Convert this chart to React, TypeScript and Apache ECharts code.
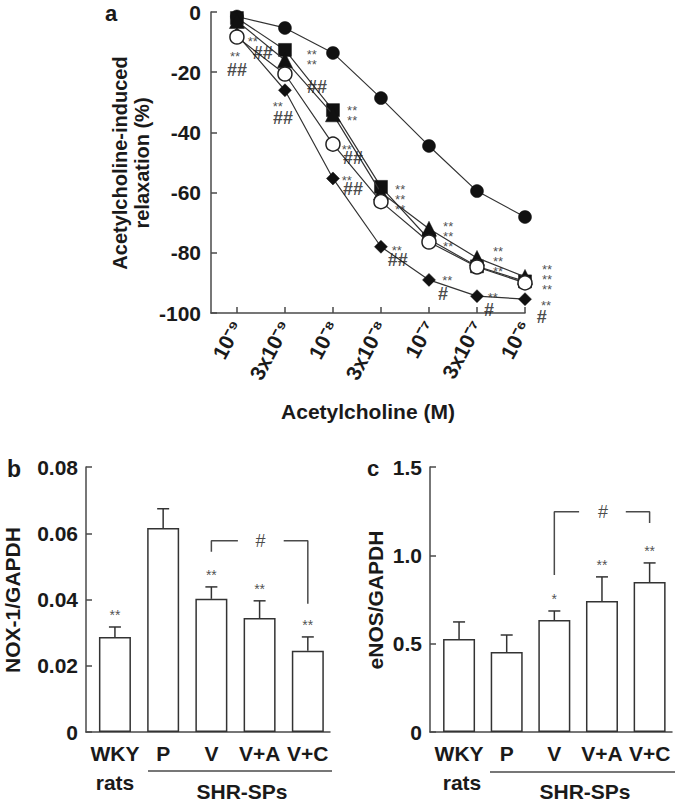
import React, { useEffect, useRef } from "react";
import * as echarts from "echarts";

const FONT = "'Liberation Sans', Arial, Helvetica, sans-serif";
const INK = "#1a1a1a";
const LINE = "#4a4a4a";

// ---------- Panel a: concentration–response ----------
const concLabels = ["10⁻⁹", "3x10⁻⁹", "10⁻⁸", "3x10⁻⁸", "10⁻⁷", "3x10⁻⁷", "10⁻⁶"];
const concIdx = [0, 1, 2, 3, 4, 5, 6];

const filledCircle = [-1.5, -5.3, -13.6, -28.6, -44.5, -59.5, -68.1];
const filledSquare = [-2, -12.6, -32.6, -58.1, -75.5, -84.5, -89.5];
const filledTriangle = [-3, -16, -34, -60, -72, -81.7, -88];
const openCircle = [-8.3, -20.6, -43.9, -63, -76.4, -84.7, -90];
const filledDiamond = [-7.5, -26, -55.3, -78, -89, -94.4, -95.4];

// significance marks: [x, y, number of stacked "**" rows]
const starsA = [
  [-0.04, -13.3, 1], [0.33, -8.6, 1], [0.85, -30.2, 1], [1.56, -14.6, 2],
  [2.4, -33.2, 2], [2.29, -44.2, 1], [2.29, -54.5, 1],
  [3.4, -60.8, 3], [3.33, -78, 1], [4.4, -73.4, 3], [4.38, -88, 1],
  [5.44, -81.7, 3], [5.33, -93.4, 1], [6.46, -87.4, 3], [6.44, -96.3, 1],
];
const hashesA = [
  [0, -19.3, "##"], [0.54, -13.6, "##"], [0.96, -35.2, "##"], [1.67, -24.9, "##"],
  [2.42, -48.5, "##"], [2.42, -58.8, "##"], [3.35, -82.4, "##"],
  [4.29, -93.7, "#"], [5.25, -99, "#"], [6.35, -101.3, "#"],
];

// ---------- Panels b, c: bars ----------
const groups = ["WKY", "P", "V", "V+A", "V+C"];
const groupIdx = [0, 1, 2, 3, 4];

const noxMean = [0.0287, 0.0616, 0.0402, 0.0344, 0.0245];
const noxSem = [0.003, 0.0058, 0.0036, 0.0052, 0.0042];
const noxSig = ["**", "", "**", "**", "**"];
const noxBracketLeft = [[2, 0.0544], [2, 0.0577], [2.55, 0.0577]];
const noxBracketRight = [[3.5, 0.0577], [4, 0.0577], [4, 0.0387]];
const noxBracketMark = [[3.02, 0.0577, "#"]];

const enosMean = [0.527, 0.453, 0.634, 0.742, 0.849];
const enosSem = [0.096, 0.096, 0.051, 0.136, 0.108];
const enosSig = ["", "", "*", "**", "**"];
const enosBracketLeft = [[2, 0.889], [2, 1.246], [2.52, 1.246]];
const enosBracketRight = [[3.5, 1.246], [4, 1.246], [4, 1.183]];
const enosBracketMark = [[3.02, 1.246, "#"]];

const lineSeries = (data: number[], symbol: string, size: number, filled: boolean, z: number) => ({
  type: "line",
  xAxisIndex: 0,
  yAxisIndex: 0,
  data: data.map((v, i) => [concIdx[i], v]),
  symbol,
  symbolSize: size,
  showSymbol: true,
  showAllSymbol: true,
  silent: true,
  z,
  lineStyle: { color: "#333", width: 1.2 },
  itemStyle: filled
    ? { color: "#111", borderColor: "#111", borderWidth: 0.5 }
    : { color: "#fff", borderColor: "#222", borderWidth: 1.5 },
});

const errorRender = (params: any, api: any) => {
  const x = api.value(0);
  const m = api.value(1);
  const s = api.value(2);
  const p0 = api.coord([x, m]);
  const p1 = api.coord([x, m + s]);
  const st = { stroke: "#333", lineWidth: 1.5 };
  return {
    type: "group",
    children: [
      { type: "line", shape: { x1: p0[0], y1: p0[1], x2: p1[0], y2: p1[1] }, style: st },
      { type: "line", shape: { x1: p1[0] - 6, y1: p1[1], x2: p1[0] + 6, y2: p1[1] }, style: st },
    ],
  };
};

const barPanel = (idx: number, mean: number[], sem: number[], sig: string[], bl: number[][], br: number[][], bm: any[]) => [
  {
    type: "bar",
    xAxisIndex: idx,
    yAxisIndex: idx,
    data: mean.map((m, i) => [groupIdx[i], m]),
    barWidth: 32,
    silent: true,
    itemStyle: { color: "#fff", borderColor: "#333", borderWidth: 1.5 },
  },
  {
    type: "custom",
    xAxisIndex: idx,
    yAxisIndex: idx,
    renderItem: errorRender,
    encode: { x: 0, y: 1 },
    data: mean.map((m, i) => [groupIdx[i], m, sem[i]]),
    silent: true,
    z: 3,
  },
  {
    type: "scatter",
    xAxisIndex: idx,
    yAxisIndex: idx,
    symbolSize: 0,
    silent: true,
    data: mean.map((m, i) => [groupIdx[i], m + sem[i], sig[i]]).filter((d) => d[2] !== ""),
    label: {
      show: true,
      position: "top",
      distance: 6,
      formatter: (p: any) => p.data[2],
      fontSize: 14,
      lineHeight: 12,
      color: "#222",
      fontFamily: FONT,
    },
  },
  {
    type: "line",
    xAxisIndex: idx,
    yAxisIndex: idx,
    data: bl,
    symbol: "none",
    silent: true,
    lineStyle: { color: LINE, width: 1.5 },
  },
  {
    type: "line",
    xAxisIndex: idx,
    yAxisIndex: idx,
    data: br,
    symbol: "none",
    silent: true,
    lineStyle: { color: LINE, width: 1.5 },
  },
  {
    type: "scatter",
    xAxisIndex: idx,
    yAxisIndex: idx,
    symbolSize: 0,
    silent: true,
    data: bm,
    label: {
      show: true,
      position: "inside",
      formatter: (p: any) => p.data[2],
      fontSize: 18,
      color: INK,
      fontFamily: FONT,
    },
  },
];

const axisLine = { show: true, onZero: false, lineStyle: { color: LINE, width: 1.5 } };
const yTick = { show: true, inside: true, length: 6, lineStyle: { color: LINE, width: 1.5 } };
const yLabel = (margin: number, fmt?: (v: number) => string) => ({
  fontSize: 21,
  fontWeight: "bold",
  color: INK,
  fontFamily: FONT,
  margin,
  formatter: fmt,
});
const barXAxis = (gridIndex: number, min: number, max: number) => ({
  gridIndex,
  type: "value",
  min,
  max,
  axisLine,
  axisTick: { show: false },
  splitLine: { show: false },
  axisLabel: {
    customValues: groupIdx,
    formatter: (v: number) => groups[Math.round(v)],
    fontSize: 21,
    fontWeight: "bold",
    color: INK,
    fontFamily: FONT,
    margin: 11,
  },
});

const txt = (text: string, x: number, y: number, size: number, rot = 0, bold = true) => ({
  type: "text",
  x,
  y,
  rotation: rot,
  silent: true,
  style: {
    text,
    fill: INK,
    font: `${bold ? "bold " : ""}${size}px ${FONT}`,
    fontSize: size,
    fontWeight: bold ? "bold" : "normal",
    fontFamily: FONT,
    align: "center",
    verticalAlign: "middle",
    textAlign: "center",
    textVerticalAlign: "middle",
  },
});
const hline = (x1: number, x2: number, y: number) => ({
  type: "line",
  silent: true,
  shape: { x1, y1: y, x2, y2: y },
  style: { stroke: LINE, lineWidth: 1.5 },
});

const option: any = {
  animation: false,
  backgroundColor: "#fff",
  textStyle: { fontFamily: FONT },
  grid: [
    { left: 211, top: 12, width: 314, height: 301 },
    { left: 86, top: 467, width: 244, height: 265 },
    { left: 430, top: 467, width: 242, height: 265 },
  ],
  xAxis: [
    {
      gridIndex: 0,
      type: "value",
      min: -0.54,
      max: 6,
      axisLine,
      axisTick: { show: true, inside: true, length: 6, customValues: concIdx, lineStyle: { color: LINE, width: 1.5 } },
      splitLine: { show: false },
      axisLabel: {
        customValues: concIdx,
        rotate: 62,
        margin: 9,
        fontSize: 21,
        fontWeight: "bold",
        color: INK,
        fontFamily: FONT,
        formatter: (v: number) => concLabels[Math.round(v)],
      },
    },
    barXAxis(1, -0.6, 4.46),
    barXAxis(2, -0.61, 4.47),
  ],
  yAxis: [
    {
      gridIndex: 0,
      type: "value",
      min: -100,
      max: 0,
      interval: 20,
      axisLine,
      axisTick: yTick,
      splitLine: { show: false },
      axisLabel: yLabel(10),
    },
    {
      gridIndex: 1,
      type: "value",
      min: 0,
      max: 0.08,
      interval: 0.02,
      axisLine,
      axisTick: yTick,
      splitLine: { show: false },
      axisLabel: yLabel(8, (v: number) => (v === 0 ? "0" : v.toFixed(2))),
    },
    {
      gridIndex: 2,
      type: "value",
      min: 0,
      max: 1.5,
      interval: 0.5,
      axisLine,
      axisTick: yTick,
      splitLine: { show: false },
      axisLabel: yLabel(8, (v: number) => (v === 0 ? "0" : v.toFixed(1))),
    },
  ],
  series: [
    lineSeries(filledDiamond, "diamond", 13, true, 2),
    lineSeries(filledCircle, "circle", 13, true, 3),
    lineSeries(filledSquare, "rect", 13, true, 4),
    lineSeries(filledTriangle, "triangle", 15, true, 5),
    lineSeries(openCircle, "circle", 14, false, 6),
    {
      type: "scatter",
      xAxisIndex: 0,
      yAxisIndex: 0,
      symbolSize: 0,
      silent: true,
      clip: false,
      z: 7,
      data: starsA,
      label: {
        show: true,
        position: "inside",
        offset: [0, 4],
        formatter: (p: any) => Array(p.data[2]).fill("**").join("\n"),
        fontSize: 13,
        lineHeight: 10,
        color: "#222",
        fontFamily: FONT,
      },
    },
    {
      type: "scatter",
      xAxisIndex: 0,
      yAxisIndex: 0,
      symbolSize: 0,
      silent: true,
      clip: false,
      z: 7,
      data: hashesA,
      label: {
        show: true,
        position: "inside",
        formatter: (p: any) => p.data[2],
        fontSize: 18,
        lineHeight: 13,
        fontWeight: "bold",
        color: INK,
        fontFamily: FONT,
      },
    },
    ...barPanel(1, noxMean, noxSem, noxSig, noxBracketLeft, noxBracketRight, noxBracketMark),
    ...barPanel(2, enosMean, enosSem, enosSig, enosBracketLeft, enosBracketRight, enosBracketMark),
  ],
  graphic: [
    txt("a", 111, 13, 22),
    txt("Acetylcholine-induced", 120, 163, 20, Math.PI / 2),
    txt("relaxation (%)", 142, 163, 20, Math.PI / 2),
    txt("Acetylcholine (M)", 368, 411, 21),
    txt("b", 14, 469, 23),
    txt("c", 373, 468, 22),
    txt("NOX-1/GAPDH", 12, 600, 21, Math.PI / 2),
    txt("eNOS/GAPDH", 375, 600, 21, Math.PI / 2),
    txt("rats", 115, 782, 21),
    txt("rats", 462, 782, 21),
    txt("SHR-SPs", 242, 791, 21),
    txt("SHR-SPs", 585, 791, 21),
    hline(148, 332, 771),
    hline(490, 675, 772),
  ],
};

export default function App() {
  const ref = useRef<HTMLDivElement>(null);
  useEffect(() => {
    const chart = echarts.init(ref.current!, null, { renderer: "svg" });
    chart.setOption(option);
    return () => chart.dispose();
  }, []);
  return (
    <div
      ref={ref}
      style={{ position: "fixed", left: 0, top: 0, width: 675, height: 803, background: "#fff" }}
    />
  );
}
